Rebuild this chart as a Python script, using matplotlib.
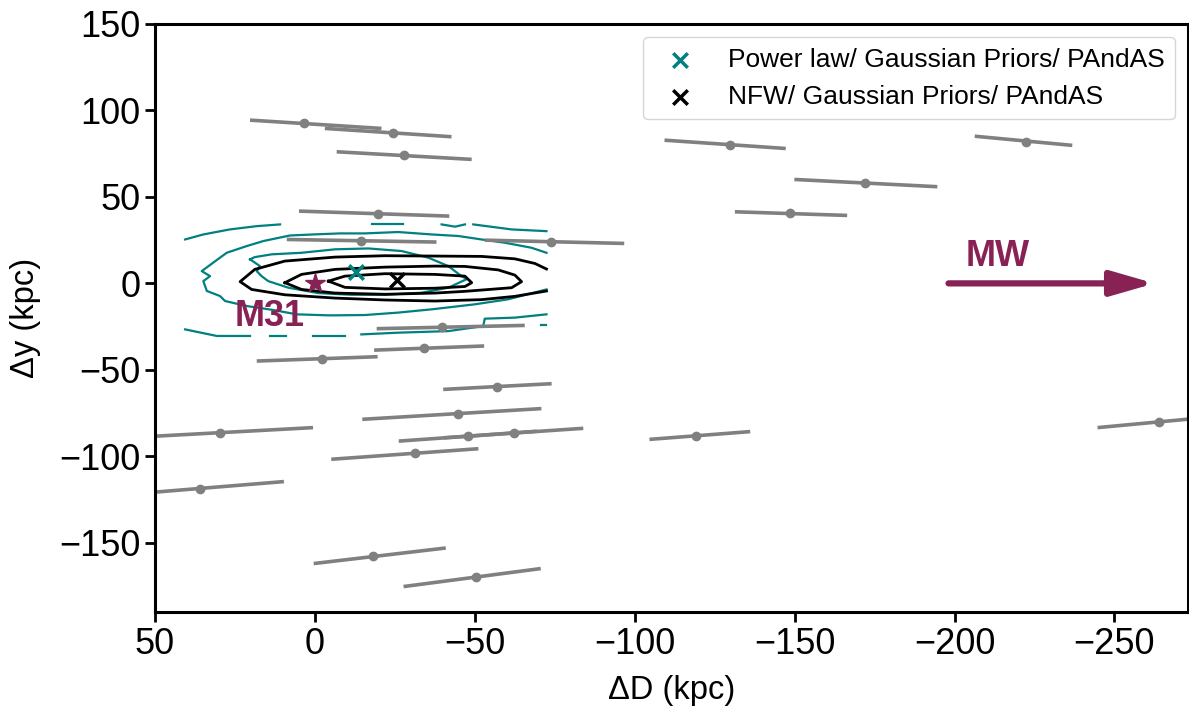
import numpy as np
import matplotlib
matplotlib.use('Agg')
from matplotlib import pyplot as plt

plt.rcParams['font.family'] = ['Liberation Sans', 'DejaVu Sans']

# satellites: centre position and the two ends of the distance error segment
sat_x = [3.4, -24.3, -27.9, -129.9, -222.2, -171.9, -19.8, -148.6, -14.4, -73.8,
         -39.8, -34.2, -2.1, -56.8, -44.8, 29.7, -47.8, -62.1, -119.0, -263.9,
         -31.3, 36.0, -18.2, -50.2]
sat_y = [92.5, 87.1, 74.0, 80.2, 81.9, 58.2, 40.3, 40.5, 24.5, 23.9,
         -25.0, -37.6, -43.5, -59.7, -75.3, -86.5, -88.3, -86.5, -88.3, -80.2,
         -98.1, -118.7, -157.8, -169.8]
near_x = [20.3, -3.1, -6.8, -109.3, -206.3, -149.9, 5.0, -131.3, 8.8, -53.1,
          -19.3, -18.5, 18.2, -40.1, -14.8, 49.4, -26.2, -40.3, -104.6, -244.7,
          -5.1, 49.4, 0.4, -27.7]
near_y = [94.4, 89.6, 76.1, 82.8, 85.1, 60.1, 41.8, 41.4, 25.4, 25.0,
          -26.2, -38.6, -44.9, -61.3, -78.6, -88.3, -91.2, -89.3, -90.2, -83.4,
          -101.7, -120.6, -162.0, -175.3]
far_x = [-20.8, -42.7, -49.0, -147.2, -236.8, -194.6, -42.0, -166.4, -38.0, -96.7,
         -65.6, -52.9, -19.6, -74.0, -70.8, 0.6, -69.4, -83.9, -136.1, -280.0,
         -51.1, 9.7, -40.9, -70.6]
far_y = [89.6, 84.8, 71.7, 78.0, 79.8, 55.9, 38.9, 39.3, 23.9, 23.1,
         -24.3, -36.2, -42.4, -58.0, -72.4, -83.4, -85.5, -83.8, -85.7, -77.3,
         -95.6, -114.6, -153.0, -164.9]

# posterior contours, Power law model (teal)
teal_inner_x = [20.3, 18.8, 13.5, 4.2, -6.3, -16.7, -27.1, -35.4, -41.7, -45.8, -47.5,
                -41.7, -33.3, -21.9, -11.5, -1.0, 8.3, 14.6, 16.7, 18.2, 17.2, 20.3]
teal_inner_y = [13.9, 15.2, 16.8, 17.7, 19.7, 20.2, 18.7, 14.9, 10.0, 4.2, 2.5,
                -2.5, -5.4, -6.6, -6.6, -5.6, -2.5, 1.3, 4.2, 7.1, 10.0, 13.9]
teal_mid_x = [-72.4, -67.7, -59.4, -52.1, -44.8, -36.5, -26.0, -15.6, -7.8, 0.5, 7.8,
              16.1, 21.3, 27.6, 31.8, 35.4, 32.8, 34.9, 33.8, 29.7, 28.1, 21.3, 13.0,
              5.7, -4.7, -15.6, -26.0, -36.5, -50.0, -60.4, -72.4]
teal_mid_y = [17.7, 20.6, 23.5, 25.4, 27.4, 28.3, 29.7, 28.9, 28.9, 28.3, 27.7,
              24.5, 21.6, 17.7, 12.0, 7.1, 4.2, 1.3, -4.4, -7.3, -10.2, -13.1, -15.4,
              -17.9, -18.5, -18.3, -16.9, -15.0, -12.1, -9.2, -3.5]
teal_outer_x = [[40.6, 34.9, 26.6, 18.2, 10.9], [-17.7, -27.4], [-39.6, -43.8, -46.9],
                [-49.5, -61.5, -72.4], [40.6, 30.7, 20.3], [14.1, 9.0], [0.5, -9.5],
                [-14.5, -26.0, -41.7, -52.6, -53.1, -62.5, -72.4], [-70.8, -72.4]]
teal_outer_y = [[25.4, 28.3, 31.2, 33.1, 34.1], [34.1, 34.1], [34.1, 32.8, 34.1],
                [34.1, 31.2, 30.2], [-26.6, -30.4, -30.4], [-30.4, -30.4], [-30.4, -30.4],
                [-29.5, -28.5, -27.6, -24.7, -20.4, -19.8, -17.9], [-24.3, -24.3]]

# posterior contours, NFW model (black)
black_inner_x = [-4.2, -9.4, -21.9, -37.5, -46.9, -49.0, -46.9, -37.5, -21.9, -9.4, -4.2]
black_inner_y = [1.3, 4.2, 5.6, 5.2, 4.2, 0.4, -1.8, -2.8, -3.2, -2.3, 1.3]
black_mid_x = [9.4, 4.2, -6.3, -21.9, -37.5, -46.9, -57.3, -62.5, -64.6, -61.5, -46.9,
               -37.5, -21.9, -6.3, 4.2, 9.4]
black_mid_y = [0.4, 5.2, 8.1, 9.4, 10.0, 9.8, 7.8, 4.8, 1.0, -2.5, -4.6,
               -5.6, -6.3, -5.6, -3.5, 0.4]
black_outer_x = [-72.4, -68.8, -62.5, -52.1, -37.5, -21.9, -6.3, 9.4, 18.8, 23.4,
                 19.8, 9.4, -6.3, -21.9, -37.5, -52.1, -62.5, -72.4]
black_outer_y = [8.3, 11.5, 14.2, 15.6, 15.8, 16.0, 15.2, 12.9, 8.1, 1.0,
                 -3.5, -6.6, -8.5, -9.6, -10.2, -9.4, -7.5, -4.4]

best_pl = (-12.8, 6.6)
best_nfw = (-25.5, 1.8)
m31_pos = (0.0, 0.0)
mw_arrow = (-198.1, -262.5)

mag = '#882255'

fig = plt.figure(figsize=(11.89, 7.07), dpi=100)
ax = fig.add_axes([0.1304, 0.1344, 0.8688, 0.8317])

ax.plot(teal_inner_x, teal_inner_y, color='teal', lw=1.6)
ax.plot(teal_mid_x, teal_mid_y, color='teal', lw=1.6)
for xs, ys in zip(teal_outer_x, teal_outer_y):
    ax.plot(xs, ys, color='teal', lw=1.6)
ax.plot(black_inner_x, black_inner_y, color='black', lw=2)
ax.plot(black_mid_x, black_mid_y, color='black', lw=2)
ax.plot(black_outer_x, black_outer_y, color='black', lw=2)

for i in range(len(sat_x)):
    ax.plot([near_x[i], far_x[i]], [near_y[i], far_y[i]], color='gray', lw=2.6,
            solid_capstyle='butt')
ax.plot(sat_x, sat_y, 'o', color='gray', ms=6)

ax.scatter(*best_pl, marker='x', color='teal', s=110, linewidths=2.5,
           label='Power law/ Gaussian Priors/ PAndAS', zorder=5)
ax.scatter(*best_nfw, marker='x', color='black', s=110, linewidths=2.5,
           label='NFW/ Gaussian Priors/ PAndAS', zorder=5)
ax.plot(*m31_pos, marker='*', color=mag, ms=15, zorder=6)
ax.text(14.3, -24.7, 'M31', color=mag, fontsize=26, fontweight='bold',
        ha='center', va='baseline')

ax.annotate('', xy=(mw_arrow[1], 0), xytext=(mw_arrow[0], 0),
            arrowprops=dict(arrowstyle='-|>,head_length=2.6,head_width=0.75',
                            lw=4.5, color=mag, shrinkA=0, shrinkB=0))
ax.text(-213.5, 10.0, 'MW', color=mag, fontsize=26, fontweight='bold',
        ha='center', va='baseline')

ax.set_xlim(50, -273)
ax.set_ylim(-190, 150)
ax.set_xticks([50, 0, -50, -100, -150, -200, -250])
ax.set_yticks([150, 100, 50, 0, -50, -100, -150])
ax.tick_params(labelsize=26, width=2, length=7)
for s in ax.spines.values():
    s.set_linewidth(2.2)
ax.set_xlabel('ΔD (kpc)', fontsize=23.5, labelpad=10)
ax.set_ylabel('Δy (kpc)', fontsize=23.5, labelpad=13)
ax.legend(loc='upper right', fontsize=19)

fig.savefig('out.png', dpi=100)
